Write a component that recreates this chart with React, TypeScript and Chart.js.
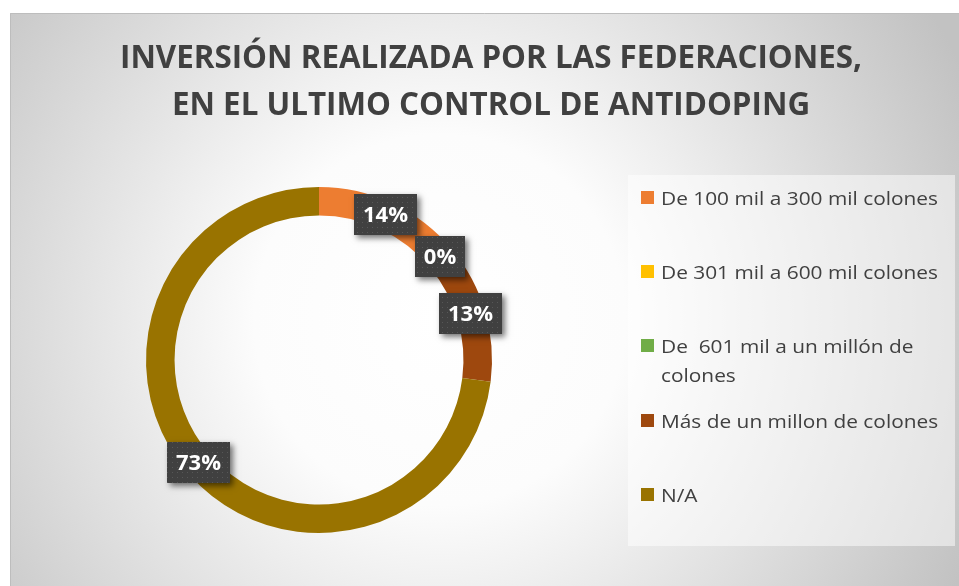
import React, { useEffect, useRef } from "react";
import { Chart, registerables } from "chart.js";

Chart.register(...registerables);

const titleLines = [
  "INVERSIÓN REALIZADA POR LAS FEDERACIONES,",
  "EN EL ULTIMO CONTROL DE ANTIDOPING",
];
const categories = [
  "De 100 mil a 300 mil colones",
  "De 301 mil a 600 mil colones",
  "De  601 mil a un millón de colones",
  "Más de un millon de colones",
  "N/A",
];
// percentages; null = no label shown in the reference
const percentages: (number | null)[] = [14, 0, null, 13, 73];
const sliceColors = ["#ED7D31", "#FFC000", "#70AD47", "#9E480E", "#997300"];

const W = 959;
const H = 586;

const backgroundPlugin = {
  id: "bgFrame",
  beforeDraw(chart: any) {
    const ctx = chart.ctx as CanvasRenderingContext2D;
    ctx.save();
    ctx.fillStyle = "#ffffff";
    ctx.fillRect(0, 0, W, H);
    const fx = 10, fy = 13;
    const g = ctx.createRadialGradient(440, 320, 0, 440, 320, 580);
    g.addColorStop(0, "#ffffff");
    g.addColorStop(0.32, "#fcfcfc");
    g.addColorStop(1, "#c2c2c2");
    ctx.fillStyle = g;
    ctx.fillRect(fx, fy, W - fx, H - fy);
    ctx.strokeStyle = "#bdbdbd";
    ctx.lineWidth = 1;
    ctx.beginPath();
    ctx.moveTo(fx + 0.5, H);
    ctx.lineTo(fx + 0.5, fy + 0.5);
    ctx.lineTo(W, fy + 0.5);
    ctx.stroke();
    ctx.restore();
  },
};

const titlePlugin = {
  id: "customTitle",
  afterDraw(chart: any) {
    const ctx = chart.ctx as CanvasRenderingContext2D;
    ctx.save();
    ctx.font = 'bold 33px "Open Sans"';
    ctx.fillStyle = "#404040";
    ctx.textAlign = "center";
    ctx.textBaseline = "alphabetic";
    const w0 = ctx.measureText(titleLines[0]).width;
    const s = 742 / w0;
    const baselines = [68, 115];
    titleLines.forEach((line, i) => {
      ctx.save();
      ctx.translate(491, baselines[i]);
      ctx.scale(s, 1);
      ctx.fillText(line, 0, 0);
      ctx.restore();
    });
    ctx.restore();
  },
};

const legendPlugin = {
  id: "customLegend",
  afterDraw(chart: any) {
    const ctx = chart.ctx as CanvasRenderingContext2D;
    const labels: string[] = chart.data.labels;
    const colors: string[] = chart.data.datasets[0].backgroundColor;
    ctx.save();
    ctx.fillStyle = "rgba(255,255,255,0.5)";
    ctx.fillRect(628, 175, 327, 371);
    ctx.font = '19px "Open Sans"';
    const ref = ctx.measureText(labels[0]).width;
    const s = 277 / ref;
    const maxW = 286;
    const step = 74.2;
    labels.forEach((lab, i) => {
      const top = 191 + i * step;
      ctx.fillStyle = colors[i];
      ctx.fillRect(641, Math.round(top), 13, 13);
      const words = lab.split(" ");
      const lines: string[] = [];
      let cur = "";
      words.forEach((wd, k) => {
        const cand = k === 0 ? wd : cur + " " + wd;
        if (ctx.measureText(cand).width * s > maxW && cur !== "") {
          lines.push(cur);
          cur = wd;
        } else {
          cur = cand;
        }
      });
      lines.push(cur);
      ctx.fillStyle = "#404040";
      ctx.textAlign = "left";
      ctx.textBaseline = "alphabetic";
      lines.forEach((ln, j) => {
        ctx.save();
        ctx.translate(661, Math.round(top) + 14 + j * 29);
        ctx.scale(s, 1);
        ctx.fillText(ln, 0, 0);
        ctx.restore();
      });
    });
    ctx.restore();
  },
};

let dotPattern: CanvasPattern | null = null;
function getPattern(ctx: CanvasRenderingContext2D) {
  if (dotPattern) return dotPattern;
  const c = document.createElement("canvas");
  c.width = 5;
  c.height = 5;
  const p = c.getContext("2d")!;
  p.fillStyle = "#404040";
  p.fillRect(0, 0, 5, 5);
  p.fillStyle = "#575757";
  p.fillRect(2, 2, 1, 1);
  dotPattern = ctx.createPattern(c, "repeat");
  return dotPattern;
}

const dataLabelPlugin = {
  id: "dataLabels",
  afterDatasetsDraw(chart: any) {
    const ctx = chart.ctx as CanvasRenderingContext2D;
    const ds = chart.data.datasets[0];
    const meta = chart.getDatasetMeta(0);
    ctx.save();
    ctx.font = 'bold 22px "Open Sans"';
    meta.data.forEach((arc: any, i: number) => {
      const raw = ds.data[i];
      if (raw === null || raw === undefined) return;
      const { x, y } = arc.getCenterPoint();
      const text = `${raw}%`;
      const tw = ctx.measureText(text).width;
      const bw = Math.round(tw + 18);
      const bh = 41;
      const bx = Math.round(x - bw / 2 - 1);
      const by = Math.round(y - bh / 2 - 2);
      ctx.save();
      ctx.shadowColor = "rgba(0,0,0,0.55)";
      ctx.shadowBlur = 6;
      ctx.shadowOffsetX = 3;
      ctx.shadowOffsetY = 3;
      ctx.fillStyle = "#404040";
      ctx.fillRect(bx, by, bw, bh);
      ctx.restore();
      const pat = getPattern(ctx);
      if (pat) {
        ctx.fillStyle = pat;
        ctx.fillRect(bx, by, bw, bh);
      }
      ctx.fillStyle = "#ffffff";
      ctx.textAlign = "center";
      ctx.textBaseline = "middle";
      ctx.fillText(text, bx + bw / 2, by + bh / 2 + 1);
    });
    ctx.restore();
  },
};

export default function App() {
  const ref = useRef<HTMLCanvasElement | null>(null);
  useEffect(() => {
    if (!ref.current) return;
    const chart = new Chart(ref.current, {
      type: "doughnut",
      data: {
        labels: categories,
        datasets: [
          {
            data: percentages as any,
            backgroundColor: sliceColors,
            borderWidth: 0,
          },
        ],
      },
      options: {
        animation: false,
        responsive: false,
        devicePixelRatio: 1,
        cutout: "83.5%",
        layout: { padding: { left: 146, right: 467, top: 187, bottom: 53 } },
        plugins: {
          legend: { display: false },
          title: { display: false },
          tooltip: { enabled: false },
        },
      },
      plugins: [backgroundPlugin, dataLabelPlugin, titlePlugin, legendPlugin],
    });
    return () => chart.destroy();
  }, []);
  return (
    <div style={{ position: "fixed", left: 0, top: 0, width: W, height: H }}>
      <canvas ref={ref} width={W} height={H} style={{ display: "block" }} />
    </div>
  );
}
